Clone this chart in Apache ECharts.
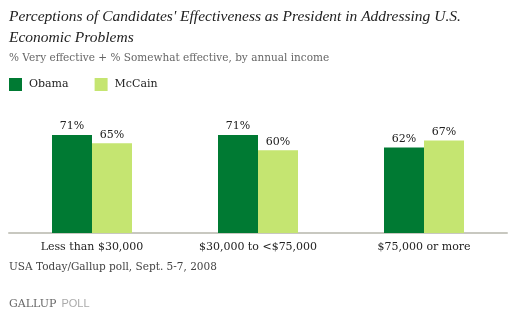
<!DOCTYPE html>
<html><head><meta charset="utf-8">
<script src="https://cdn.jsdelivr.net/npm/echarts@6/dist/echarts.min.js"></script>
<style>html,body{margin:0;padding:0;background:#fff}#c{width:514px;height:324px}</style>
</head><body><div id="c"></div>
<script>
const categories = ['Less than $30,000', '$30,000 to <$75,000', '$75,000 or more'];
const obama = [71, 71, 62];
const mccain = [65, 60, 67];
const seriesNames = ['Obama', 'McCain'];

const serif = 'DejaVu Serif';
const chart = echarts.init(document.getElementById('c'));
chart.setOption({
  animation: false,
  backgroundColor: '#fff',
  title: [
    {text: "Perceptions of Candidates' Effectiveness as President in Addressing U.S.\nEconomic Problems",
     left: 9, top: 6, padding: 0,
     textStyle: {fontFamily: 'Liberation Serif', fontStyle: 'italic', fontWeight: 'normal', fontSize: 15.5, color: '#222', lineHeight: 21}},
    {text: '% Very effective + % Somewhat effective, by annual income', left: 9, top: 53, padding: 0,
     textStyle: {fontFamily: serif, fontWeight: 'normal', fontSize: 10.5, color: '#666'}},
    {text: 'USA Today/Gallup poll, Sept. 5-7, 2008', left: 9, top: 262, padding: 0,
     textStyle: {fontFamily: serif, fontWeight: 'normal', fontSize: 10.5, color: '#444'}},
    {text: '{a|GALLUP} {b|POLL}', left: 9, top: 295, padding: 0,
     textStyle: {fontWeight: 'normal', rich: {a: {fontFamily: serif, fontWeight: 'normal', fontSize: 11, color: '#666'}, b: {fontFamily: 'Liberation Sans', fontWeight: 'normal', fontSize: 11, color: '#aaa'}}}}
  ],
  legend: {
    left: 9, top: 78, padding: 0, itemWidth: 13, itemHeight: 13, itemGap: 26, icon: 'rect',
    textStyle: {fontFamily: serif, fontSize: 11, color: '#222', padding: [0, 0, 0, 2]},
    data: seriesNames
  },
  grid: {left: 9, right: 7, top: 95, bottom: 91},
  xAxis: {
    type: 'category', data: categories,
    axisLine: {lineStyle: {color: '#c8c8c0', width: 2}},
    axisTick: {show: false},
    axisLabel: {fontFamily: serif, fontSize: 11, color: '#222', margin: 9}
  },
  yAxis: {type: 'value', min: 0, max: 100, show: false, splitLine: {show: false}},
  series: [
    {name: seriesNames[0], type: 'bar', data: obama, barWidth: 40, barGap: '0%',
     itemStyle: {color: '#007a33'},
     label: {show: true, position: 'top', distance: 3, formatter: '{c}%', fontFamily: serif, fontSize: 11, color: '#222'}},
    {name: seriesNames[1], type: 'bar', data: mccain, barWidth: 40,
     itemStyle: {color: '#c5e571'},
     label: {show: true, position: 'top', distance: 3, formatter: '{c}%', fontFamily: serif, fontSize: 11, color: '#222'}}
  ]
});
</script></body></html>
